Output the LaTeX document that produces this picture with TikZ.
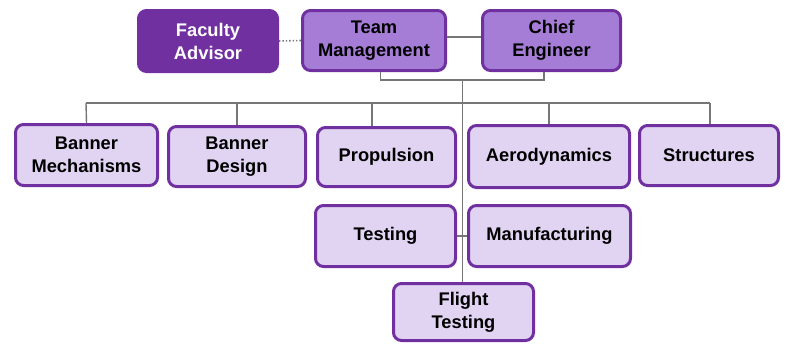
\documentclass[tikz,border=0pt]{standalone}
\usepackage{fontspec}
\setmainfont{Liberation Sans}
\definecolor{dpurple}{RGB}{112,48,160}
\definecolor{mpurple}{RGB}{165,125,215}
\definecolor{lpurple}{RGB}{224,212,242}
\definecolor{lgray}{RGB}{118,118,118}
\tikzset{
  box/.style={rectangle, rounded corners=8pt, line width=3pt, draw=dpurple, align=center,
    font=\fontsize{18.3}{23}\selectfont\bfseries, inner sep=0pt},
  topbox/.style={box, fill=mpurple},
  subbox/.style={box, fill=lpurple},
  advbox/.style={box, fill=dpurple, draw=dpurple, text=white},
  conn/.style={draw=lgray, line width=1.4pt},
}
\begin{document}
\begin{tikzpicture}[x=1pt,y=-1pt]
\useasboundingbox (0,0) rectangle (785,343);
\node[advbox, minimum width=139pt, minimum height=61pt] (fa) at (208,41) {Faculty\\Advisor};
\node[topbox, minimum width=143pt, minimum height=60pt] (tm) at (374,40.5) {Team\\Management};
\node[topbox, minimum width=138pt, minimum height=60pt] (ce) at (551.5,40.5) {Chief\\Engineer};
\node[subbox, minimum width=142pt, minimum height=61pt] (bm) at (86.5,155) {Banner\\Mechanisms};
\node[subbox, minimum width=137pt, minimum height=60pt] (bd) at (237,156.5) {Banner\\Design};
\node[subbox, minimum width=138pt, minimum height=59pt] (pr) at (386.5,157) {Propulsion};
\node[subbox, minimum width=161pt, minimum height=62pt] (ae) at (549,156.5) {Aerodynamics};
\node[subbox, minimum width=139pt, minimum height=60pt] (st) at (709,155.5) {Structures};
\node[subbox, minimum width=140pt, minimum height=61pt] (te) at (385.5,236) {Testing};
\node[subbox, minimum width=162pt, minimum height=61pt] (mf) at (549.5,236) {Manufacturing};
\node[subbox, minimum width=140pt, minimum height=57pt] (ft) at (463.5,312) {Flight\\Testing};
\coordinate (bl) at (380.5,80);
\coordinate (br) at (544,80);
\coordinate (tr) at (462.5,80);
\coordinate (busl) at (86,103);
\coordinate (busr) at (710,103);
\draw[conn, dotted, line width=1.6pt] (fa.east) -- (tm.west);
\draw[conn] (tm.east |- 0,37) -- (ce.west |- 0,37);
\draw[conn] (bl |- tm.south) -- (bl) -- (br) -- (br |- ce.south);
\draw[conn] (tr) -- (ft.north -| tr);
\draw[conn] (busl) -- (busr);
\draw[conn] (busl) -- (bm.north);
\draw[conn] (237,103) -- (bd.north);
\draw[conn] (372,103) -- (372,0 |- pr.north);
\draw[conn] (ae.north |- busl) -- (ae.north);
\draw[conn] (busr) -- (st.north -| busr);
\draw[conn] (te.east) -- (mf.west);
\end{tikzpicture}
\end{document}
